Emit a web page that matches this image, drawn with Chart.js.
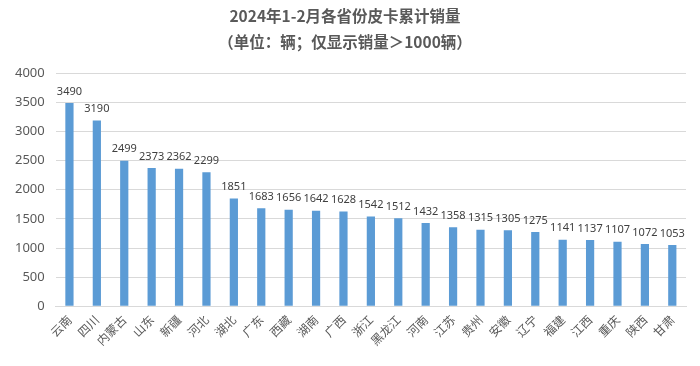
<!DOCTYPE html>
<html>
<head>
<meta charset="utf-8">
<script src="https://cdn.jsdelivr.net/npm/chart.js@4"></script>
<style>
  html, body { margin: 0; padding: 0; background: #fff; }
  #wrap { width: 700px; height: 366px; position: relative; }
</style>
</head>
<body>
<div id="wrap"><canvas id="chart-area"></canvas></div>
<script>
var provinces = ['云南', '四川', '内蒙古', '山东', '新疆', '河北', '湖北', '广东', '西藏', '湖南', '广西', '浙江',
  '黑龙江', '河南', '江苏', '贵州', '安徽', '辽宁', '福建', '江西', '重庆', '陕西', '甘肃'];
var sales = [3490, 3190, 2499, 2373, 2362, 2299, 1851, 1683, 1656, 1642, 1628, 1542,
  1512, 1432, 1358, 1315, 1305, 1275, 1141, 1137, 1107, 1072, 1053];
var titleLines = ['2024年1-2月各省份皮卡累计销量', '（单位：辆；仅显示销量＞1000辆）'];

var cjk = '"Noto Sans CJK SC", "Noto Sans", sans-serif';
var grey = '#595959';

// draws the value above each bar
var valueLabels = {
  id: 'valueLabels',
  afterDatasetsDraw: function(chart) {
    var ctx = chart.ctx;
    var meta = chart.getDatasetMeta(0);
    ctx.save();
    ctx.font = '11px "Noto Sans", sans-serif';
    ctx.fillStyle = '#404040';
    ctx.textAlign = 'center';
    ctx.textBaseline = 'bottom';
    meta.data.forEach(function(bar, i) {
      ctx.fillText(sales[i], bar.x, bar.y - 6);
    });
    ctx.restore();
  }
};

var config = {
  type: 'bar',
  data: {
    labels: provinces,
    datasets: [{
      data: sales,
      backgroundColor: '#5b9bd5',
      barPercentage: 0.6,
      categoryPercentage: 0.5
    }]
  },
  options: {
    responsive: true,
    maintainAspectRatio: false,
    animation: false,
    layout: { padding: { left: 4, right: 14, top: 0, bottom: 12 } },
    plugins: {
      legend: { display: false },
      tooltip: { enabled: false },
      title: {
        display: true,
        text: titleLines,
        color: grey,
        font: { family: cjk, size: 15.5, weight: 'bold', lineHeight: 1.62 },
        padding: { top: 4, bottom: 19 }
      }
    },
    scales: {
      x: {
        grid: { display: false, drawTicks: false },
        border: { color: '#d9d9d9' },
        ticks: {
          color: grey,
          font: { family: cjk, size: 12 },
          maxRotation: 45,
          minRotation: 45,
          autoSkip: false,
          padding: 6
        }
      },
      y: {
        min: 0,
        max: 4000,
        grid: { color: '#d9d9d9', drawTicks: false },
        border: { display: false },
        ticks: {
          stepSize: 500,
          color: grey,
          font: { family: '"Noto Sans", sans-serif', size: 13 },
          padding: 11,
          callback: function(v) { return String(v); }
        }
      }
    }
  },
  plugins: [valueLabels]
};

var ctx = document.getElementById('chart-area').getContext('2d');
window.myBar = new Chart(ctx, config);
</script>
</body>
</html>
